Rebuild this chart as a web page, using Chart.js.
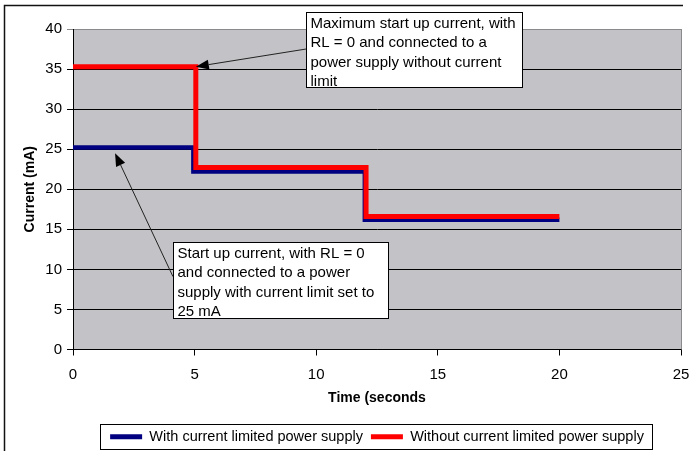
<!DOCTYPE html>
<html>
<head>
<meta charset="utf-8">
<script src="https://cdn.jsdelivr.net/npm/chart.js@4"></script>
<style>
    html, body { margin: 0; padding: 0; background: #fff; }
    #wrap { width: 693px; height: 451px; }
</style>
</head>
<body>
<div id="wrap"><canvas id="chart" width="693" height="451"></canvas></div>
<script>
const seriesNames = ['With current limited power supply', 'Without current limited power supply'];

// time (s) / current (mA)
const limitedTime = [0, 4.95, 4.95, 12, 12, 20];
const limitedCurrent = [25.2, 25.2, 22.2, 22.2, 16.2, 16.2];
const unlimitedTime = [0, 5.05, 5.05, 12.05, 12.05, 20];
const unlimitedCurrent = [35.3, 35.3, 22.7, 22.7, 16.6, 16.6];

const xTicks = [0, 5, 10, 15, 20, 25];
const yTicks = [0, 5, 10, 15, 20, 25, 30, 35, 40];

// callout boxes, anchored in data units
const notes = [
    {
        lines: ['Maximum start up current, with', 'RL = 0 and connected to a', 'power supply without current', 'limit'],
        at: [9.58, 42.125], w: 216, h: 75,
        tail: [9.58, 37.5], tip: [5.05, 35.3]
    },
    {
        lines: ['Start up current, with RL = 0', 'and connected to a power', 'supply with current limit set to', '25 mA'],
        at: [4.11, 13.375], w: 215, h: 76,
        tail: [4.11, 9.1], tip: [1.73, 24.5]
    }
];

const FONT = '"Liberation Sans", Arial, sans-serif';
Chart.defaults.font.family = FONT;
Chart.defaults.color = '#000';

function toPoints(xs, ys) {
    return xs.map((x, i) => ({ x: x, y: ys[i] }));
}

const decorPlugin = {
    id: 'decor',
    afterInit(chart) {
        const legend = chart.legend;
        if (legend) {
            const fit = legend.fit;
            legend.fit = function () {
                fit.call(this);
                this.height -= 3;
            };
        }
    },
    beforeDraw(chart) {
        const { ctx, chartArea: a } = chart;
        ctx.save();
        ctx.fillStyle = '#fff';
        ctx.fillRect(0, 0, chart.width, chart.height);
        ctx.fillStyle = '#c3c2c6';
        ctx.fillRect(a.left, a.top, a.right - a.left, a.bottom - a.top);
        ctx.strokeStyle = '#111';
        ctx.lineWidth = 1.5;
        ctx.beginPath();
        ctx.moveTo(4.5, chart.height);
        ctx.lineTo(4.5, 5.5);
        ctx.lineTo(683, 5.5);
        ctx.stroke();
        ctx.restore();
    },
    beforeDatasetsDraw(chart) {
        const { ctx, chartArea: a } = chart;
        ctx.save();
        ctx.strokeStyle = '#8a8a8a';
        ctx.lineWidth = 1;
        ctx.beginPath();
        ctx.moveTo(Math.round(a.right) + 0.5, a.top);
        ctx.lineTo(Math.round(a.right) + 0.5, a.bottom);
        ctx.stroke();
        ctx.restore();
    },
    afterDraw(chart) {
        const ctx = chart.ctx;
        const sx = chart.scales.x, sy = chart.scales.y;
        ctx.save();

        // legend frame
        const hb = chart.legend.legendHitBoxes;
        if (hb && hb.length) {
            const first = hb[0], last = hb[hb.length - 1];
            const left = Math.round(first.left - 10) + 0.5;
            const right = Math.round(last.left + last.width + 8) + 0.5;
            const cy = first.top + first.height / 2;
            ctx.strokeStyle = '#000';
            ctx.lineWidth = 1;
            ctx.strokeRect(left, Math.round(cy - 12.5) + 0.5, right - left, 25);
        }

        notes.forEach(n => {
            const tx = sx.getPixelForValue(n.tail[0]), ty = sy.getPixelForValue(n.tail[1]);
            const px = sx.getPixelForValue(n.tip[0]), py = sy.getPixelForValue(n.tip[1]);
            const ang = Math.atan2(py - ty, px - tx);
            const c = Math.cos(ang), s = Math.sin(ang);
            const hl = 13, hw = 5;
            ctx.strokeStyle = '#222';
            ctx.fillStyle = '#000';
            ctx.lineWidth = 1;
            ctx.beginPath();
            ctx.moveTo(tx, ty);
            ctx.lineTo(px - hl * c, py - hl * s);
            ctx.stroke();
            ctx.beginPath();
            ctx.moveTo(px, py);
            ctx.lineTo(px - hl * c + hw * s, py - hl * s - hw * c);
            ctx.lineTo(px - hl * c - hw * s, py - hl * s + hw * c);
            ctx.closePath();
            ctx.fill();

            const bx = Math.round(sx.getPixelForValue(n.at[0])) + 0.5;
            const by = Math.round(sy.getPixelForValue(n.at[1])) + 0.5;
            ctx.fillStyle = '#fff';
            ctx.fillRect(bx, by, n.w, n.h);
            ctx.strokeStyle = '#000';
            ctx.strokeRect(bx, by, n.w, n.h);

            ctx.save();
            ctx.beginPath();
            ctx.rect(bx, by, n.w, n.h);
            ctx.clip();
            ctx.fillStyle = '#000';
            ctx.font = '15px ' + FONT;
            ctx.textBaseline = 'middle';
            n.lines.forEach((t, i) => ctx.fillText(t, bx + 4, by + 11 + i * 19.5));
            ctx.restore();
        });
        ctx.restore();
    }
};

const chart = new Chart(document.getElementById('chart'), {
    type: 'scatter',
    data: {
        datasets: [
            {
                label: seriesNames[0],
                data: toPoints(limitedTime, limitedCurrent),
                showLine: true,
                borderColor: '#000080',
                backgroundColor: '#000080',
                borderWidth: 4.5,
                pointRadius: 0,
                borderCapStyle: 'butt',
                borderJoinStyle: 'miter',
                order: 1
            },
            {
                label: seriesNames[1],
                data: toPoints(unlimitedTime, unlimitedCurrent),
                showLine: true,
                borderColor: '#ff0000',
                backgroundColor: '#ff0000',
                borderWidth: 5,
                pointRadius: 0,
                borderCapStyle: 'butt',
                borderJoinStyle: 'miter',
                order: 0
            }
        ]
    },
    options: {
        responsive: false,
        animation: false,
        layout: { padding: { left: 0, right: 12, top: 29, bottom: 0 } },
        plugins: {
            tooltip: { enabled: false },
            legend: {
                position: 'bottom',
                fullSize: false,
                labels: {
                    boxWidth: 32,
                    boxHeight: 5,
                    padding: 8,
                    color: '#000',
                    font: { size: 14.5 },
                    generateLabels(chart) {
                        const items = Chart.defaults.plugins.legend.labels.generateLabels(chart);
                        items.sort((a, b) => a.datasetIndex - b.datasetIndex);
                        items.forEach(it => {
                            it.lineWidth = 0;
                            it.fillStyle = it.strokeStyle;
                        });
                        return items;
                    }
                }
            }
        },
        scales: {
            x: {
                type: 'linear',
                min: xTicks[0],
                max: xTicks[xTicks.length - 1],
                ticks: { stepSize: xTicks[1] - xTicks[0], padding: 10, font: { size: 15 }, color: '#000' },
                grid: { drawOnChartArea: false, color: '#000', tickLength: 6 },
                border: { color: '#000', width: 1 },
                title: {
                    display: true,
                    text: 'Time (seconds',
                    color: '#000',
                    font: { size: 14, weight: 'bold' },
                    padding: { top: 0, bottom: 15 }
                },
                afterFit(scale) {
                    scale.height = 72;
                    scale.paddingLeft = 0;
                    scale.paddingRight = 0;
                }
            },
            y: {
                min: yTicks[0],
                max: yTicks[yTicks.length - 1],
                ticks: { stepSize: yTicks[1] - yTicks[0], padding: 5, font: { size: 15 }, color: '#000' },
                grid: {
                    color: ctx => (ctx.tick && ctx.tick.value === yTicks[yTicks.length - 1]) ? '#8a8a8a' : '#000',
                    tickLength: 6
                },
                border: { color: '#000', width: 1 },
                title: {
                    display: true,
                    text: 'Current (mA)',
                    color: '#000',
                    font: { size: 14, weight: 'bold' },
                    padding: { top: 22, bottom: 0 }
                },
                afterFit(scale) {
                    scale.width = 73;
                    scale.paddingTop = 0;
                    scale.paddingBottom = 0;
                }
            }
        }
    },
    plugins: [decorPlugin]
});
</script>
</body>
</html>
